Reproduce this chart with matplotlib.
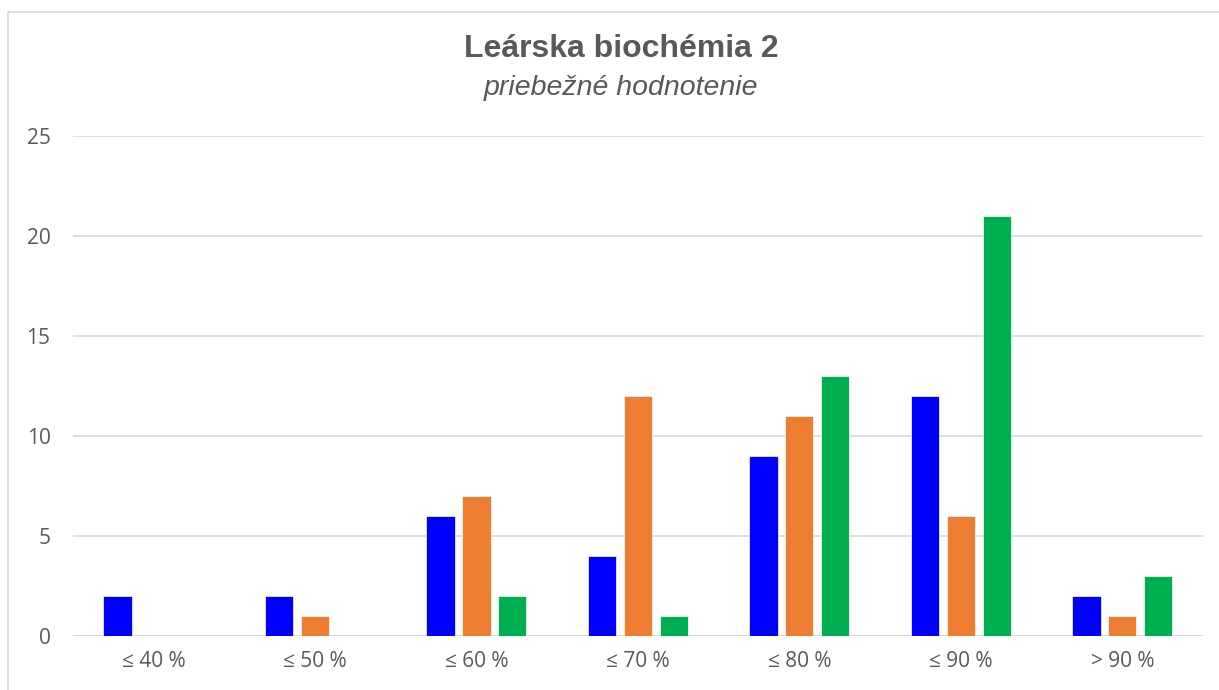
import matplotlib
matplotlib.use("Agg")
import matplotlib.pyplot as plt
import numpy as np
from matplotlib.patches import Rectangle

categories = ["≤ 40 %", "≤ 50 %", "≤ 60 %", "≤ 70 %", "≤ 80 %", "≤ 90 %", "> 90 %"]
series_blue = [2, 2, 6, 4, 9, 12, 2]
series_orange = [0, 1, 7, 12, 11, 6, 1]
series_green = [0, 0, 2, 1, 13, 21, 3]
yticks = [0, 5, 10, 15, 20, 25]
title = "Leárska biochémia 2"
subtitle = "priebežné hodnotenie"

W, H = 1219, 690
fig = plt.figure(figsize=(W / 100, H / 100), dpi=100)
fig.patch.set_facecolor("white")

# border
fig.patches.append(Rectangle((8 / W, -0.05), 1.2, 1 - 12 / H + 0.05, transform=fig.transFigure,
                             fill=False, edgecolor="#d9d9d9", linewidth=1.2))

left, right = 72.7 / W, 1203 / W
bottom, top = (H - 636) / H, (H - 136) / H
ax = fig.add_axes([left, bottom, right - left, top - bottom])

x = np.arange(len(categories))
bw = 0.175
sp = 0.222
txt = "#595959"
ax.bar(x - sp, series_blue, bw, color="#0000FF", zorder=3, edgecolor="white", linewidth=0.5)
ax.bar(x, series_orange, bw, color="#ED7D31", zorder=3, edgecolor="white", linewidth=0.5)
ax.bar(x + sp, series_green, bw, color="#00B050", zorder=3, edgecolor="white", linewidth=0.5)

ax.set_xlim(-0.5, len(categories) - 0.5)
ax.set_ylim(0, 25)
ax.set_yticks(yticks)
ax.set_xticks(x)
ax.set_xticklabels(categories)
ax.yaxis.grid(True, color="#d9d9d9", linewidth=1.2, zorder=0)
ax.set_axisbelow(True)
for s in ax.spines.values():
    s.set_visible(False)
ax.axhline(0, color="#d9d9d9", linewidth=1.2, zorder=2)
ax.tick_params(axis="both", length=0, labelcolor=txt, labelsize=15)
ax.tick_params(axis="y", pad=16)
ax.tick_params(axis="x", pad=11)
for lab in ax.get_xticklabels() + ax.get_yticklabels():
    lab.set_fontfamily(["Open Sans", "DejaVu Sans"])

fig.text(621 / W, 1 - 49 / H, title, ha="center", va="center", fontsize=23, fontweight="bold",
         color=txt, family=["Liberation Sans", "DejaVu Sans"])
fig.text(621 / W, 1 - 88 / H, subtitle, ha="center", va="center", fontsize=20.5, style="italic",
         color=txt, family=["Liberation Sans", "DejaVu Sans"])

fig.savefig("out.png", dpi=100, facecolor="white")
